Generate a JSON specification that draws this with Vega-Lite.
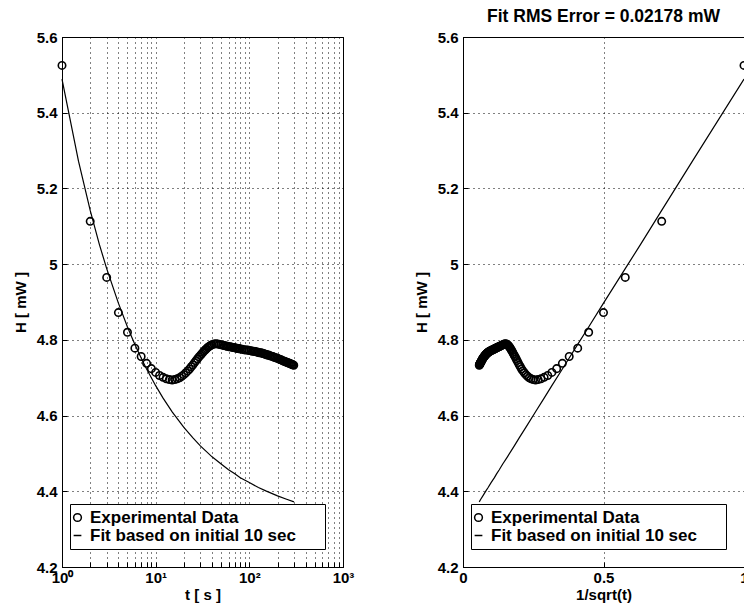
{
  "$schema": "https://vega.github.io/schema/vega-lite/v6.json",
  "background": "white",
  "padding": {"left": 12, "top": 7, "right": 0, "bottom": 0},
  "config": {
    "font": "Liberation Sans",
    "view": {"stroke": "black", "strokeWidth": 1},
    "axis": {
      "labelFont": "Liberation Sans", "labelFontSize": 15, "labelFontWeight": "bold", "labelColor": "black",
      "titleFont": "Liberation Sans", "titleFontSize": 15, "titleFontWeight": "bold", "titleColor": "black",
      "domainColor": "black", "tickColor": "black", "tickSize": -5, "labelPadding": 10,
      "gridColor": "black", "gridOpacity": 1, "gridDash": [1, 4], "gridWidth": 1,
      "labelOverlap": false, "labelBound": false, "labelFlush": false
    },
    "legend": {
      "orient": "none", "legendX": 8, "legendY": 467, "strokeColor": "black", "fillColor": "white",
      "padding": 5, "rowPadding": 0, "labelFont": "Liberation Sans", "labelFontSize": 17, "labelFontWeight": "bold",
      "labelColor": "black", "labelLimit": 400, "symbolSize": 60, "symbolStrokeWidth": 1.5, "symbolStrokeColor": "black",
      "symbolOffset": -6, "labelOffset": 4
    }
  },
  "datasets": {
    "exp": [
      {"t": 1, "u": 1, "H": 5.525},
      {"t": 2, "u": 0.7071, "H": 5.113},
      {"t": 3, "u": 0.5774, "H": 4.965},
      {"t": 4, "u": 0.5, "H": 4.872},
      {"t": 5, "u": 0.4472, "H": 4.820},
      {"t": 6, "u": 0.4082, "H": 4.778},
      {"t": 7, "u": 0.3780, "H": 4.756},
      {"t": 8, "u": 0.3536, "H": 4.738},
      {"t": 9, "u": 0.3333, "H": 4.724},
      {"t": 10, "u": 0.3162, "H": 4.714},
      {"t": 11, "u": 0.3015, "H": 4.706},
      {"t": 12, "u": 0.2887, "H": 4.701},
      {"t": 13, "u": 0.2774, "H": 4.697},
      {"t": 14, "u": 0.2673, "H": 4.695},
      {"t": 15, "u": 0.2582, "H": 4.694},
      {"t": 16, "u": 0.25, "H": 4.695},
      {"t": 17, "u": 0.2425, "H": 4.697},
      {"t": 18, "u": 0.2357, "H": 4.700},
      {"t": 19, "u": 0.2294, "H": 4.704},
      {"t": 20, "u": 0.2236, "H": 4.708},
      {"t": 21, "u": 0.2182, "H": 4.713},
      {"t": 22, "u": 0.2132, "H": 4.718},
      {"t": 23, "u": 0.2085, "H": 4.723},
      {"t": 24, "u": 0.2041, "H": 4.729},
      {"t": 25, "u": 0.2, "H": 4.734},
      {"t": 26, "u": 0.1961, "H": 4.740},
      {"t": 27, "u": 0.1925, "H": 4.745},
      {"t": 28, "u": 0.1890, "H": 4.750},
      {"t": 29, "u": 0.1857, "H": 4.755},
      {"t": 30, "u": 0.1826, "H": 4.759},
      {"t": 31, "u": 0.1796, "H": 4.763},
      {"t": 32, "u": 0.1768, "H": 4.767},
      {"t": 33, "u": 0.1741, "H": 4.771},
      {"t": 34, "u": 0.1715, "H": 4.774},
      {"t": 35, "u": 0.1690, "H": 4.777},
      {"t": 36, "u": 0.1667, "H": 4.780},
      {"t": 37, "u": 0.1644, "H": 4.782},
      {"t": 38, "u": 0.1622, "H": 4.784},
      {"t": 39, "u": 0.1601, "H": 4.786},
      {"t": 40, "u": 0.1581, "H": 4.787},
      {"t": 42, "u": 0.1543, "H": 4.789},
      {"t": 44, "u": 0.1508, "H": 4.790},
      {"t": 46, "u": 0.1474, "H": 4.789},
      {"t": 48, "u": 0.1443, "H": 4.788},
      {"t": 50, "u": 0.1414, "H": 4.787},
      {"t": 52, "u": 0.1387, "H": 4.786},
      {"t": 54, "u": 0.1361, "H": 4.785},
      {"t": 56, "u": 0.1336, "H": 4.784},
      {"t": 58, "u": 0.1313, "H": 4.783},
      {"t": 60, "u": 0.1291, "H": 4.782},
      {"t": 62, "u": 0.1270, "H": 4.782},
      {"t": 64, "u": 0.125, "H": 4.781},
      {"t": 66, "u": 0.1231, "H": 4.780},
      {"t": 68, "u": 0.1213, "H": 4.780},
      {"t": 70, "u": 0.1195, "H": 4.779},
      {"t": 72, "u": 0.1179, "H": 4.778},
      {"t": 74, "u": 0.1162, "H": 4.778},
      {"t": 76, "u": 0.1147, "H": 4.777},
      {"t": 78, "u": 0.1132, "H": 4.777},
      {"t": 80, "u": 0.1118, "H": 4.776},
      {"t": 84, "u": 0.1091, "H": 4.775},
      {"t": 88, "u": 0.1066, "H": 4.774},
      {"t": 92, "u": 0.1043, "H": 4.773},
      {"t": 96, "u": 0.1021, "H": 4.773},
      {"t": 100, "u": 0.1, "H": 4.772},
      {"t": 104, "u": 0.0981, "H": 4.771},
      {"t": 108, "u": 0.0962, "H": 4.770},
      {"t": 112, "u": 0.0945, "H": 4.770},
      {"t": 116, "u": 0.0928, "H": 4.769},
      {"t": 120, "u": 0.0913, "H": 4.768},
      {"t": 124, "u": 0.0898, "H": 4.767},
      {"t": 128, "u": 0.0884, "H": 4.766},
      {"t": 132, "u": 0.0870, "H": 4.766},
      {"t": 136, "u": 0.0857, "H": 4.765},
      {"t": 140, "u": 0.0845, "H": 4.764},
      {"t": 144, "u": 0.0833, "H": 4.763},
      {"t": 148, "u": 0.0822, "H": 4.762},
      {"t": 152, "u": 0.0811, "H": 4.761},
      {"t": 156, "u": 0.0801, "H": 4.760},
      {"t": 160, "u": 0.0791, "H": 4.760},
      {"t": 166, "u": 0.0776, "H": 4.758},
      {"t": 172, "u": 0.0762, "H": 4.757},
      {"t": 178, "u": 0.0750, "H": 4.756},
      {"t": 184, "u": 0.0737, "H": 4.754},
      {"t": 190, "u": 0.0725, "H": 4.753},
      {"t": 196, "u": 0.0714, "H": 4.752},
      {"t": 202, "u": 0.0704, "H": 4.751},
      {"t": 208, "u": 0.0693, "H": 4.749},
      {"t": 214, "u": 0.0684, "H": 4.748},
      {"t": 220, "u": 0.0674, "H": 4.747},
      {"t": 226, "u": 0.0665, "H": 4.745},
      {"t": 232, "u": 0.0657, "H": 4.744},
      {"t": 238, "u": 0.0648, "H": 4.743},
      {"t": 244, "u": 0.0640, "H": 4.742},
      {"t": 250, "u": 0.0632, "H": 4.741},
      {"t": 256, "u": 0.0625, "H": 4.740},
      {"t": 262, "u": 0.0618, "H": 4.739},
      {"t": 268, "u": 0.0611, "H": 4.738},
      {"t": 274, "u": 0.0604, "H": 4.737},
      {"t": 280, "u": 0.0598, "H": 4.736},
      {"t": 286, "u": 0.0591, "H": 4.735},
      {"t": 292, "u": 0.0585, "H": 4.734},
      {"t": 298, "u": 0.0579, "H": 4.733}
    ],
    "fit": [
      {"t": 1, "u": 1, "H": 5.489},
      {"t": 1.5, "u": 0.8165, "H": 5.272},
      {"t": 2, "u": 0.7071, "H": 5.142},
      {"t": 2.5, "u": 0.6325, "H": 5.053},
      {"t": 3, "u": 0.5774, "H": 4.988},
      {"t": 4, "u": 0.5, "H": 4.897},
      {"t": 5, "u": 0.4472, "H": 4.834},
      {"t": 6, "u": 0.4082, "H": 4.788},
      {"t": 7, "u": 0.3780, "H": 4.752},
      {"t": 8, "u": 0.3536, "H": 4.723},
      {"t": 10, "u": 0.3162, "H": 4.679},
      {"t": 12, "u": 0.2887, "H": 4.646},
      {"t": 15, "u": 0.2582, "H": 4.610},
      {"t": 20, "u": 0.2236, "H": 4.569},
      {"t": 25, "u": 0.2, "H": 4.541},
      {"t": 30, "u": 0.1826, "H": 4.520},
      {"t": 40, "u": 0.1581, "H": 4.491},
      {"t": 50, "u": 0.1414, "H": 4.472},
      {"t": 60, "u": 0.1291, "H": 4.457},
      {"t": 70, "u": 0.1195, "H": 4.446},
      {"t": 80, "u": 0.1118, "H": 4.436},
      {"t": 100, "u": 0.1, "H": 4.423},
      {"t": 125, "u": 0.0894, "H": 4.410},
      {"t": 150, "u": 0.0816, "H": 4.401},
      {"t": 200, "u": 0.0707, "H": 4.388},
      {"t": 250, "u": 0.0632, "H": 4.379},
      {"t": 300, "u": 0.0577, "H": 4.372}
    ]
  },
  "bounds": "flush",
  "spacing": 120,
  "resolve": {"scale": {"shape": "independent"}, "legend": {"shape": "independent"}},
  "hconcat": [
    {
      "width": 281,
      "height": 530,
      "layer": [
        {
          "data": {"name": "fit"},
          "mark": {"type": "line", "color": "black", "strokeWidth": 1.2},
          "encoding": {
            "x": {"field": "t", "type": "quantitative", "scale": {"type": "log", "domain": [1, 1000]},
              "axis": {"title": "t [ s ]", "grid": true,
                "values": [1, 2, 3, 4, 5, 6, 7, 8, 9, 10, 20, 30, 40, 50, 60, 70, 80, 90, 100, 200, 300, 400, 500, 600, 700, 800, 900, 1000],
                "labelExpr": "datum.value == 1 ? '10⁰' : datum.value == 10 ? '10¹' : datum.value == 100 ? '10²' : datum.value == 1000 ? '10³' : ''",
                "labelPadding": 8, "titlePadding": 2}},
            "y": {"field": "H", "type": "quantitative", "scale": {"domain": [4.2, 5.6]},
              "axis": {"title": "H [ mW ]", "grid": true, "values": [4.2, 4.4, 4.6, 4.8, 5, 5.2, 5.4, 5.6], "format": "~g", "titlePadding": 8}}
          }
        },
        {
          "data": {"name": "exp"},
          "mark": {"type": "point", "shape": "circle", "filled": false, "color": "black", "size": 55, "strokeWidth": 1.6, "opacity": 1},
          "encoding": {
            "x": {"field": "t", "type": "quantitative"},
            "y": {"field": "H", "type": "quantitative"},
            "shape": {"datum": "Experimental Data", "type": "nominal",
              "scale": {"domain": ["Experimental Data", "Fit based on initial 10 sec"], "range": ["circle", "stroke"]},
              "legend": {"title": null, "labelExpr": "datum.label + '\u2800\u2800'"}}
          }
        }
      ]
    },
    {
      "width": 281,
      "height": 530,
      "title": {"text": "Fit RMS Error = 0.02178 mW", "fontSize": 17.5, "fontWeight": "bold", "font": "Liberation Sans", "color": "black", "offset": 5, "anchor": "middle"},
      "layer": [
        {
          "data": {"name": "fit"},
          "mark": {"type": "line", "color": "black", "strokeWidth": 1.2},
          "encoding": {
            "x": {"field": "u", "type": "quantitative", "scale": {"domain": [0, 1]},
              "axis": {"title": "1/sqrt(t)", "grid": true, "values": [0, 0.5, 1], "format": "~g", "labelPadding": 8, "titlePadding": 2}},
            "y": {"field": "H", "type": "quantitative", "scale": {"domain": [4.2, 5.6]},
              "axis": {"title": "H [ mW ]", "grid": true, "values": [4.2, 4.4, 4.6, 4.8, 5, 5.2, 5.4, 5.6], "format": "~g", "titlePadding": 8}}
          }
        },
        {
          "data": {"name": "exp"},
          "mark": {"type": "point", "shape": "circle", "filled": false, "color": "black", "size": 55, "strokeWidth": 1.6, "opacity": 1},
          "encoding": {
            "x": {"field": "u", "type": "quantitative"},
            "y": {"field": "H", "type": "quantitative"},
            "shape": {"datum": "Experimental Data", "type": "nominal",
              "scale": {"domain": ["Experimental Data", "Fit based on initial 10 sec"], "range": ["circle", "stroke"]},
              "legend": {"title": null, "labelExpr": "datum.label + '\u2800\u2800'"}}
          }
        }
      ]
    }
  ]
}
